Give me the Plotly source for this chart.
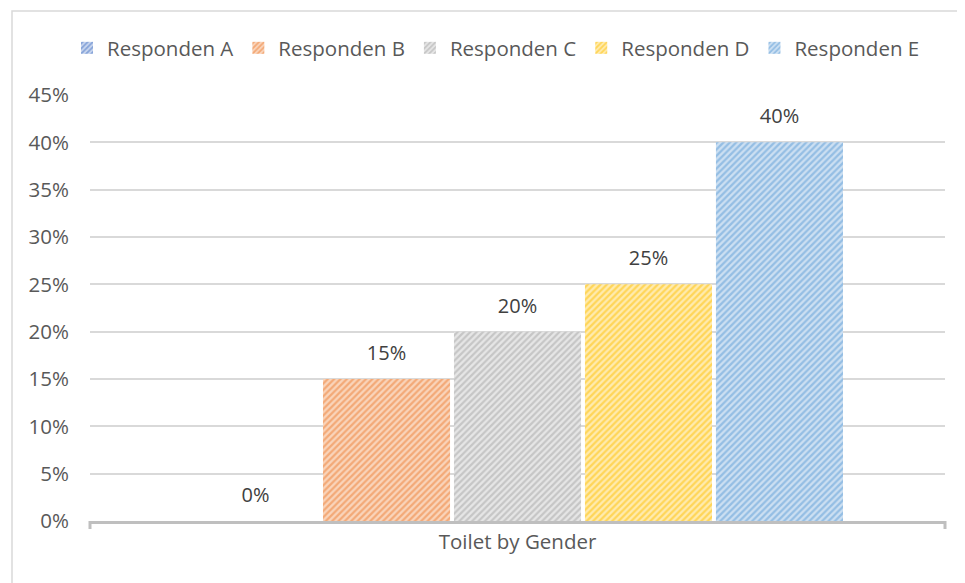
import plotly.graph_objects as go

category = ["Toilet by Gender"]
respondents = ["Responden A", "Responden B", "Responden C", "Responden D", "Responden E"]
values = [0.0, 0.15, 0.20, 0.25, 0.40]
colors = ["#4472C4", "#ED7D31", "#A5A5A5", "#FFC000", "#5B9BD5"]
bg_colors = ["#C9D6EE", "#F9D5BC", "#E6E6E6", "#FFEBB0", "#CDE0F2"]
y_ticks = [0, 0.05, 0.10, 0.15, 0.20, 0.25, 0.30, 0.35, 0.40, 0.45]

FONT = "Open Sans"
FS = 20.5

fig = go.Figure()
for name, v, c, bg in zip(respondents, values, colors, bg_colors):
    fig.add_trace(go.Bar(
        x=category, y=[v], name=name,
        marker=dict(color=bg, line=dict(width=0),
                    pattern=dict(shape="/", fgcolor=c, bgcolor=bg, size=4.5, solidity=0.5, fillmode="overlay")),
        texttemplate="<span style='font-size:20px'>%{y:.0%}</span><br> ",
        textposition="outside",
        textfont=dict(family=FONT, size=10, color="#404040"),
        cliponaxis=False,
    ))

# page body has an 8px offset; compensate in margins
OFF = 8
W, H = 965, 583
L, R, T, B = 90 - OFF, 20 + OFF, 95 - OFF, 62 + OFF
pw, ph = W - L - R, H - T - B

def px(x):
    return (x - OFF - L) / pw

def py(y):
    return (H - B - (y - OFF)) / ph

shapes = [
    dict(type="rect", xref="paper", yref="paper", x0=px(12), x1=px(990), y0=py(11), y1=py(620),
         line=dict(color="#D9D9D9", width=1.5), fillcolor="rgba(0,0,0,0)", layer="below"),
    dict(type="line", xref="paper", yref="paper", x0=0, x1=0, y0=0, y1=py(529),
         line=dict(color="#BFBFBF", width=3)),
    dict(type="line", xref="paper", yref="paper", x0=1, x1=1, y0=0, y1=py(529),
         line=dict(color="#BFBFBF", width=3)),
]

fig.update_layout(
    width=W, height=H,
    margin=dict(l=L, r=R, t=T, b=B, autoexpand=False),
    paper_bgcolor="white", plot_bgcolor="white",
    barmode="group", bargap=0.234, bargroupgap=0.03,
    font=dict(family=FONT, size=FS, color="#595959"),
    legend=dict(orientation="h", x=px(496), xanchor="center", y=py(48), yanchor="middle",
                font=dict(family=FONT, size=FS, color="#595959"), itemwidth=30,
                tracegroupgap=0),
    xaxis=dict(showline=True, linecolor="#BFBFBF", linewidth=3, ticks="",
               tickfont=dict(family=FONT, size=FS, color="#595959"), showgrid=False),
    yaxis=dict(range=[0, 0.45], tickvals=y_ticks, tickformat=".0%", showgrid=True,
               gridcolor="#D9D9D9", gridwidth=1.5, zeroline=False, ticklabelstandoff=20,
               tickfont=dict(family=FONT, size=FS, color="#595959")),
    shapes=shapes,
    showlegend=True,
)

fig.write_html("out.html")
